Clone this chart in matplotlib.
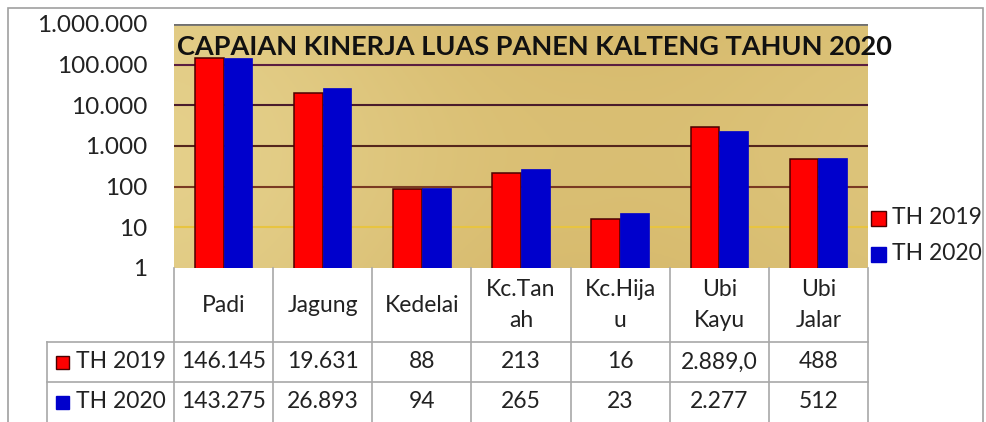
import numpy as np
import matplotlib
matplotlib.use("Agg")
import matplotlib.pyplot as plt
from matplotlib.patches import Rectangle
from matplotlib.lines import Line2D

# ---------------- data ----------------
categories = ["Padi", "Jagung", "Kedelai", "Kc.Tan\nah", "Kc.Hija\nu", "Ubi\nKayu", "Ubi\nJalar"]
series_names = ["TH 2019", "TH 2020"]
values_2019 = [146145, 19631, 88, 213, 16, 2889.0, 488]
values_2020 = [143275, 26893, 94, 265, 23, 2277, 512]
labels_2019 = ["146.145", "19.631", "88", "213", "16", "2.889,0", "488"]
labels_2020 = ["143.275", "26.893", "94", "265", "23", "2.277", "512"]
ytick_values = [1, 10, 100, 1000, 10000, 100000, 1000000]
ytick_labels = ["1", "10", "100", "1.000", "10.000", "100.000", "1.000.000"]
title = "CAPAIAN KINERJA LUAS PANEN KALTENG TAHUN 2020"

FONT = "Lato"
plt.rcParams["font.family"] = [FONT, "DejaVu Sans"]

W, H = 986, 422
fig = plt.figure(figsize=(W / 100, H / 100), dpi=100)
fig.patch.set_facecolor("white")

def fx(px):
    return px / W

def fy(py):
    return 1 - py / H

# outer frame
frame = Rectangle((fx(8), fy(440)), fx(983) - fx(8), fy(8) - fy(440),
                  transform=fig.transFigure, fill=False, edgecolor="#a0a0a0", lw=1.2)
fig.add_artist(frame)

# plot area
L, R, T, B = 174, 868, 24, 268
ax = fig.add_axes([fx(L), fy(B), fx(R) - fx(L), fy(T) - fy(B)])
ax.set_yscale("log")
ax.set_ylim(1, 1e6)
n = len(categories)
ax.set_xlim(-0.5, n - 0.5)

# gold gradient background
gx = np.linspace(0, 1, 300)
gy = np.linspace(0, 1, 120)
GX, GY = np.meshgrid(gx, gy)
c_light = np.array([0.90, 0.82, 0.55])
c_mid = np.array([0.83, 0.71, 0.40])
c_dark = np.array([0.78, 0.64, 0.30])
t = 0.5 + 0.5 * np.cos(GX * np.pi * 1.6 + 0.2) * 0.6 + 0.15 * np.sin(GY * 3.0)
t = np.clip(t, 0, 1)
img = (c_mid[None, None, :] * (1 - t[..., None]) + c_light[None, None, :] * t[..., None])
shade = np.clip(GX - 0.6, 0, 1)[..., None] * 1.4
img = img * (1 - shade * 0.35) + c_dark[None, None, :] * shade * 0.35
ax.imshow(img, extent=[0, 1, 0, 1], transform=ax.transAxes, aspect="auto", zorder=0)

# gridlines
grid_colors = {10: "#e8c440", 100: "#7a3a22", 1000: "#55261c", 10000: "#4a1c2c", 100000: "#5a1e40"}
for v, c in grid_colors.items():
    ax.axhline(v, color=c, lw=1.5, zorder=1)
ax.axhline(1e6, color="#707070", lw=2, zorder=1)

# bars
x = np.arange(n)
bw = 0.29
ax.bar(x - bw / 2, values_2019, width=bw, color="#ff0000", edgecolor="#4a0000", lw=1.1, zorder=3)
ax.bar(x + bw / 2, values_2020, width=bw, color="#0000cc", edgecolor="#0000cc", lw=0.5, zorder=3)

ax.set_yticks(ytick_values)
ax.set_yticklabels(ytick_labels, fontsize=17.5, color="#222222")
ax.yaxis.set_minor_locator(matplotlib.ticker.NullLocator())
ax.tick_params(axis="y", length=0, pad=19)
ax.set_xticks([])
for s in ax.spines.values():
    s.set_visible(False)

ax.text(0.005, 0.905, title, transform=ax.transAxes, fontsize=19.5, fontweight="bold",
        color="#111111", ha="left", va="center", zorder=5, clip_on=False)

# ---------------- data table ----------------
line_c = "#a8a8a8"
col_w = (R - L) / n
lab_left = 47
TFS = 16.5

def add_line(x0, y0, x1, y1):
    fig.add_artist(Line2D([fx(x0), fx(x1)], [fy(y0), fy(y1)], transform=fig.transFigure,
                          color=line_c, lw=1.2))

# vertical lines
for i in range(n + 1):
    xx = L + i * col_w
    add_line(xx, 268, xx, 440)
add_line(lab_left, 342, lab_left, 440)
# horizontal lines
add_line(lab_left, 342, R, 342)
add_line(lab_left, 382, R, 382)

for i, cat in enumerate(categories):
    cx = L + (i + 0.5) * col_w
    fig.text(fx(cx), fy(305), cat, ha="center", va="center", fontsize=TFS, color="#222222",
             linespacing=1.6)
    fig.text(fx(cx), fy(362), labels_2019[i], ha="center", va="center", fontsize=TFS, color="#222222")
    fig.text(fx(cx), fy(402), labels_2020[i], ha="center", va="center", fontsize=TFS, color="#222222")

series_colors = [("#ff0000", "#4a0000"), ("#0000cc", "#0000cc")]
for j, (name, yy) in enumerate(zip(series_names, [362, 402])):
    fc, ec = series_colors[j]
    sq = 13
    fig.add_artist(Rectangle((fx(56), fy(yy + sq / 2)), fx(sq), fy(0) - fy(sq),
                             transform=fig.transFigure, facecolor=fc, edgecolor=ec, lw=1.0))
    fig.text(fx(76), fy(yy), name, ha="left", va="center", fontsize=TFS, color="#222222")

# legend
for j, (name, yy) in enumerate(zip(series_names, [218, 254])):
    fc, ec = series_colors[j]
    sq = 15
    fig.add_artist(Rectangle((fx(871), fy(yy + sq / 2)), fx(sq), fy(0) - fy(sq),
                             transform=fig.transFigure, facecolor=fc, edgecolor=ec, lw=1.0))
    fig.text(fx(892), fy(yy), name, ha="left", va="center", fontsize=16.5, color="#222222")

fig.savefig("out.png", dpi=100)
